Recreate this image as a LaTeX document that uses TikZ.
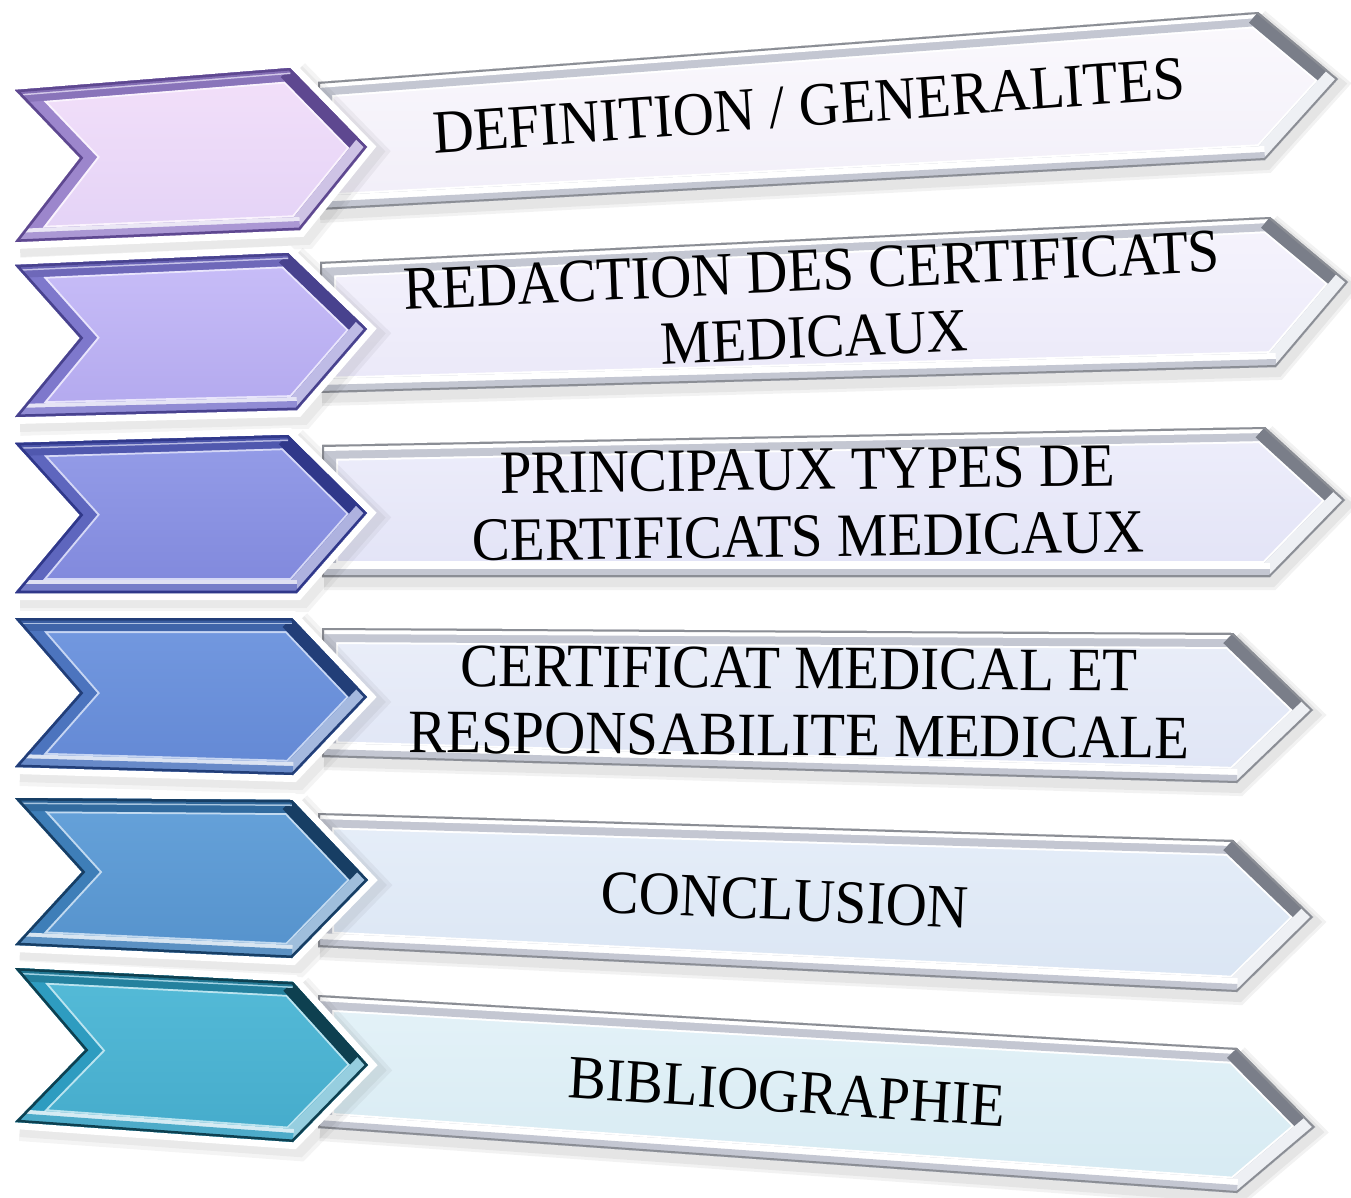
\documentclass[tikz,border=0pt]{standalone}
\usepackage{fontspec}
\setmainfont{Liberation Serif}

% chevron face colours (top, bottom), rim and dark edge, one set per row
\definecolor{r1face}{HTML}{F3E0FA}\definecolor{r1faceb}{HTML}{E3D2F6}
\definecolor{r1rim}{HTML}{9C86CC}\definecolor{r1dark}{HTML}{5E4890}
\definecolor{r2face}{HTML}{C9BEF8}\definecolor{r2faceb}{HTML}{B2A8EE}
\definecolor{r2rim}{HTML}{7E78CC}\definecolor{r2dark}{HTML}{48428E}
\definecolor{r3face}{HTML}{959DE8}\definecolor{r3faceb}{HTML}{8088DC}
\definecolor{r3rim}{HTML}{5E66BE}\definecolor{r3dark}{HTML}{30388A}
\definecolor{r4face}{HTML}{7399E0}\definecolor{r4faceb}{HTML}{6388D4}
\definecolor{r4rim}{HTML}{4C74BE}\definecolor{r4dark}{HTML}{223E78}
\definecolor{r5face}{HTML}{66A2DA}\definecolor{r5faceb}{HTML}{5592CC}
\definecolor{r5rim}{HTML}{3E7EB8}\definecolor{r5dark}{HTML}{173E64}
\definecolor{r6face}{HTML}{55BBD8}\definecolor{r6faceb}{HTML}{45ABCB}
\definecolor{r6rim}{HTML}{2E9CC0}\definecolor{r6dark}{HTML}{0E4050}
% banner faces
\definecolor{p1face}{HTML}{FBF9FD}\definecolor{p1faceb}{HTML}{F1EEF8}
\definecolor{p2face}{HTML}{F6F4FD}\definecolor{p2faceb}{HTML}{EAE8F8}
\definecolor{p3face}{HTML}{EEEEFB}\definecolor{p3faceb}{HTML}{E2E3F6}
\definecolor{p4face}{HTML}{EAEEF9}\definecolor{p4faceb}{HTML}{DFE5F5}
\definecolor{p5face}{HTML}{E6EEF9}\definecolor{p5faceb}{HTML}{DAE5F3}
\definecolor{p6face}{HTML}{E4F2F8}\definecolor{p6faceb}{HTML}{D6EAF2}
\definecolor{prim}{HTML}{C4C7D2}\definecolor{pdark}{HTML}{3E424E}
\definecolor{plight}{HTML}{EEF0F4}

% bevelled chevron: TL, TR, tip, BR, BL, notch, colour prefix
\newcommand{\chevronpiece}[7]{%
  \foreach \w in {28,20}
    \draw[black, opacity=0.045, line width=\w pt, shift={(5,5)}]
      #2 -- #3 -- #4 -- #5;
  \draw[white, line width=14pt] #1 -- #2 -- #3 -- #4 -- #5 -- #6 -- cycle;
  \fill[top color=#7face, bottom color=#7faceb] #1 -- #2 -- #3 -- #4 -- #5 -- #6 -- cycle;
  \begin{scope}
    \clip #1 -- #2 -- #3 -- #4 -- #5 -- #6 -- cycle;
    \draw[line width=30pt, white!60!#7face] #1 -- #2 -- #3 -- #4 -- #5 -- #6 -- cycle;
    \draw[line width=26pt, #7rim] #1 -- #2 -- #3 -- #4 -- #5 -- #6 -- cycle;
    \draw[line width=26pt, #7rim!70!#7dark] #1 -- #2;
    \draw[line width=26pt, #7dark] #2 -- #3;
    \draw[line width=26pt, #7rim!50!white] #3 -- #4;
    \draw[line width=26pt, white!80!#7rim] #4 -- #5;
    \draw[line width=18pt, #7rim!85!white] #4 -- #5;
    \draw[line width=12pt, white!55!#7rim] #1 -- #2;
    \draw[line width=9pt, #7rim!60!#7dark] #1 -- #2;
    \draw[line width=5pt, #7dark] #1 -- #2 -- #3 -- #4 -- #5 -- #6 -- cycle;
  \end{scope}
}

% bevelled banner: TL, TR, tip, BR, BL, colour prefix
\newcommand{\bannerpiece}[6]{%
  \foreach \w in {16,10}
    \draw[black, opacity=0.05, line width=\w pt, shift={(2,5)}]
      #2 -- #3 -- #4 -- #5;
  \fill[top color=#6face, bottom color=#6faceb] #1 -- #2 -- #3 -- #4 -- #5 -- cycle;
  \begin{scope}
    \clip #1 -- #2 -- #3 -- #4 -- #5 -- cycle;
    \draw[line width=32pt, white] #1 -- #2 -- #3 -- #4 -- #5 -- cycle;
    \draw[line width=28pt, prim] #1 -- #2 -- #3 -- #4 -- #5 -- cycle;
    \draw[line width=12pt, white] #1 -- #2;
    \draw[line width=28pt, pdark!55!prim] #2 -- #3;
    \draw[line width=28pt, plight] #3 -- #4;
    \draw[line width=28pt, white] #4 -- #5;
    \draw[line width=16pt, prim] #4 -- #5;
    \draw[line width=4pt, pdark!60!white] #1 -- #2 -- #3 -- #4 -- #5 -- cycle;
  \end{scope}
}

\tikzset{
  lbl/.style={font=\fontsize{57}{62}\selectfont, inner sep=0pt, align=center,
              text=black, yscale=1.08}
}

\begin{document}
\begin{tikzpicture}[x=1pt, y=-1pt, line join=miter]
  \useasboundingbox (0,0) rectangle (1351,1197);
  \fill[white] (0,0) rectangle (1351,1197);

  % row 1
  \bannerpiece{(318,82)}{(1258,12)}{(1338,79)}{(1265,160)}{(318,210)}{p1}
  \chevronpiece{(15,90)}{(290,68)}{(367,147)}{(300,230)}{(15,242)}{(80,158)}{r1}
  % row 2
  \bannerpiece{(320,262)}{(1270,217)}{(1348,282)}{(1276,367)}{(320,393)}{p2}
  \chevronpiece{(15,265)}{(288,253)}{(367,329)}{(297,410)}{(15,417)}{(80,338)}{r2}
  % row 3
  \bannerpiece{(322,445)}{(1265,427)}{(1345,500)}{(1270,577)}{(322,577)}{p3}
  \chevronpiece{(15,443)}{(288,435)}{(367,513)}{(297,593)}{(15,593)}{(80,515)}{r3}
  % row 4
  \bannerpiece{(322,628)}{(1233,633)}{(1313,710)}{(1237,783)}{(322,757)}{p4}
  \chevronpiece{(15,618)}{(292,618)}{(367,697)}{(293,775)}{(15,767)}{(80,693)}{r4}
  % row 5
  \bannerpiece{(318,813)}{(1233,840)}{(1313,917)}{(1237,992)}{(318,947)}{p5}
  \chevronpiece{(15,798)}{(292,800)}{(368,880)}{(292,958)}{(15,945)}{(82,872)}{r5}
  % row 6
  \bannerpiece{(318,995)}{(1237,1048)}{(1315,1127)}{(1237,1193)}{(318,1128)}{p6}
  \chevronpiece{(15,968)}{(293,982)}{(368,1065)}{(293,1142)}{(15,1122)}{(85,1050)}{r6}

  % labels
  \node[lbl, anchor=base, rotate=3.9] (t1) at (810,126) {DEFINITION / GENERALITES};
  \node[lbl, rotate=2.5]  (t2) at (813,304) {REDACTION DES CERTIFICATS\\MEDICAUX};
  \node[lbl, rotate=0.7]  (t3) at (808,503) {PRINCIPAUX TYPES DE\\CERTIFICATS MEDICAUX};
  \node[lbl, rotate=-0.4] (t4) at (799,702) {CERTIFICAT MEDICAL ET\\RESPONSABILITE MEDICALE};
  \node[lbl, anchor=base, rotate=-2.3] (t5) at (784,920)  {CONCLUSION};
  \node[lbl, anchor=base, rotate=-3.5] (t6) at (786,1112) {BIBLIOGRAPHIE};
\end{tikzpicture}
\end{document}
